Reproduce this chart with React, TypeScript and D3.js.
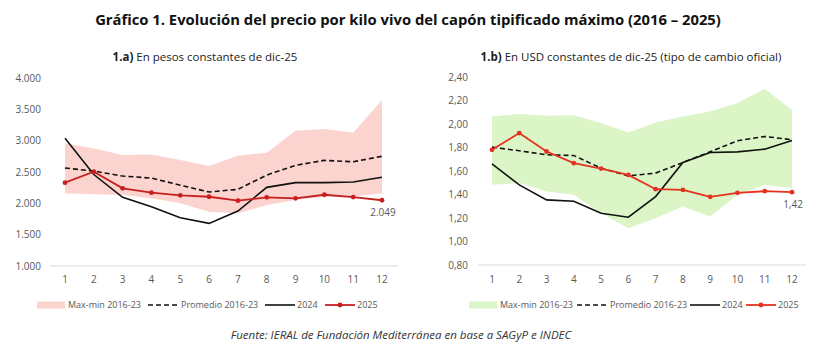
import * as d3 from 'd3';

const months = [1, 2, 3, 4, 5, 6, 7, 8, 9, 10, 11, 12];

// 1.a) pesos constantes dic-25
const pesosMax = [2957, 2877, 2770, 2781, 2690, 2595, 2760, 2808, 3158, 3185, 3126, 3648];
const pesosMin = [2160, 2143, 2132, 2080, 2000, 1866, 1840, 1973, 2053, 2105, 2110, 2160];
const pesosProm = [2563, 2515, 2435, 2403, 2290, 2180, 2223, 2451, 2606, 2686, 2663, 2750];
const pesos2024 = [3037, 2460, 2096, 1946, 1770, 1680, 1877, 2255, 2330, 2330, 2340, 2415];
const pesos2025 = [2330, 2504, 2240, 2170, 2127, 2105, 2042, 2096, 2080, 2137, 2100, 2049];
const pesosTicks = [1000, 1500, 2000, 2500, 3000, 3500, 4000];

// 1.b) USD constantes dic-25
const usdMax = [2.064, 2.085, 2.07, 2.075, 2.008, 1.928, 2.013, 2.064, 2.107, 2.178, 2.3, 2.12];
const usdMin = [1.482, 1.497, 1.425, 1.397, 1.24, 1.113, 1.198, 1.297, 1.212, 1.397, 1.482, 1.454];
const usdProm = [1.803, 1.772, 1.738, 1.732, 1.624, 1.559, 1.582, 1.672, 1.763, 1.857, 1.894, 1.866];
const usd2024 = [1.661, 1.482, 1.354, 1.343, 1.241, 1.207, 1.382, 1.672, 1.757, 1.763, 1.786, 1.86];
const usd2025 = [1.78, 1.923, 1.766, 1.667, 1.621, 1.567, 1.445, 1.439, 1.38, 1.414, 1.428, 1.42];
const usdTicks = [0.8, 1.0, 1.2, 1.4, 1.6, 1.8, 2.0, 2.2, 2.4];

const legendLabels = ['Max-min 2016-23', 'Promedio 2016-23', '2024', '2025'];

const FONT = "'Open Sans', sans-serif";
const GREY = '#595959';

const fmtPesos = (v: number) => d3.format(',')(v).replace(/,/g, '.');
const fmtUsd = (v: number) => v.toFixed(2).replace('.', ',');

type PanelProps = {
  x0: number; x1: number; axisX0: number; axisX1: number;
  yTop: number; yBottom: number; domain: [number, number];
  ticks: number[]; fmt: (v: number) => string; labelX: number;
  max: number[]; min: number[]; prom: number[]; y24: number[]; y25: number[];
  bandColor: string; redColor: string; endLabel: string;
  legendX: number[];
};

function Panel(p: PanelProps) {
  const x = d3.scaleLinear().domain([1, 12]).range([p.x0, p.x1]);
  const y = d3.scaleLinear().domain(p.domain).range([p.yBottom, p.yTop]);
  const area = d3.area<number>()
    .x((_, i) => x(months[i]))
    .y0((_, i) => y(p.min[i]))
    .y1((d) => y(d));
  const line = (vals: number[]) => d3.line<number>().x((_, i) => x(months[i])).y((d) => y(d))(vals) || '';
  const lx = p.legendX;
  const ly = 305;
  const lf = 9;
  return (
    <g>
      {p.ticks.map((t) => (
        <text key={t} x={p.labelX} y={y(t)} dy="0.35em" textAnchor="end" fontSize={10} fill={GREY} fontFamily={FONT}>
          {p.fmt(t)}
        </text>
      ))}
      <path d={area(p.max) || ''} fill={p.bandColor} />
      <line x1={p.axisX0} x2={p.axisX1} y1={p.yBottom} y2={p.yBottom} stroke="#d9d9d9" strokeWidth={1} />
      {months.map((m) => (
        <text key={m} x={x(m)} y={279} dy="0.35em" textAnchor="middle" fontSize={10} fill={GREY} fontFamily={FONT}>
          {m}
        </text>
      ))}
      <path d={line(p.prom)} fill="none" stroke="#111" strokeWidth={1.6} strokeDasharray="5,3" />
      <path d={line(p.y24)} fill="none" stroke="#111" strokeWidth={1.6} />
      <path d={line(p.y25)} fill="none" stroke={p.redColor} strokeWidth={1.8} />
      {p.y25.map((v, i) => (
        <circle key={i} cx={x(months[i])} cy={y(v)} r={2.4} fill={p.redColor} />
      ))}
      <text x={x(12) + 1} y={y(p.y25[11]) + 12} dy="0.35em" textAnchor="middle" fontSize={10} fill={GREY} fontFamily={FONT}>
        {p.endLabel}
      </text>
      {/* legend */}
      <rect x={lx[0]} y={ly - 3.5} width={28} height={7} fill={p.bandColor} />
      <text x={lx[0] + 31} y={ly} dy="0.35em" fontSize={lf} fill={GREY} fontFamily={FONT}>{legendLabels[0]}</text>
      <line x1={lx[1]} x2={lx[1] + 31} y1={ly} y2={ly} stroke="#111" strokeWidth={1.6} strokeDasharray="5,3" />
      <text x={lx[1] + 33} y={ly} dy="0.35em" fontSize={lf} fill={GREY} fontFamily={FONT}>{legendLabels[1]}</text>
      <line x1={lx[2]} x2={lx[2] + 30} y1={ly} y2={ly} stroke="#111" strokeWidth={1.6} />
      <text x={lx[2] + 32} y={ly} dy="0.35em" fontSize={lf} fill={GREY} fontFamily={FONT}>{legendLabels[2]}</text>
      <line x1={lx[3]} x2={lx[3] + 30} y1={ly} y2={ly} stroke={p.redColor} strokeWidth={1.8} />
      <circle cx={lx[3] + 15} cy={ly} r={2.4} fill={p.redColor} />
      <text x={lx[3] + 32} y={ly} dy="0.35em" fontSize={lf} fill={GREY} fontFamily={FONT}>{legendLabels[3]}</text>
    </g>
  );
}

export default function App() {
  return (
    <svg width={817} height={363} style={{ position: 'absolute', left: 0, top: 0, background: '#fff' }}>
      <rect width={817} height={363} fill="#fff" />
      <text x={408} y={20} dy="0.35em" textAnchor="middle" fontSize={14.8} fontWeight="bold" fill="#111" fontFamily={FONT}>
        Gráfico 1. Evolución del precio por kilo vivo del capón tipificado máximo (2016 – 2025)
      </text>
      <text x={205} y={57} dy="0.35em" textAnchor="middle" fontSize={11.5} fill="#222" fontFamily={FONT}>
        <tspan fontWeight="bold">1.a)</tspan> En pesos constantes de dic-25
      </text>
      <text x={631} y={57} dy="0.35em" textAnchor="middle" fontSize={11.5} fill="#222" fontFamily={FONT}>
        <tspan fontWeight="bold">1.b)</tspan> En USD constantes de dic-25 (tipo de cambio oficial)
      </text>
      <Panel
        x0={65} x1={382} axisX0={50} axisX1={398}
        yTop={78} yBottom={266} domain={[1000, 4000]}
        ticks={pesosTicks} fmt={fmtPesos} labelX={41}
        max={pesosMax} min={pesosMin} prom={pesosProm} y24={pesos2024} y25={pesos2025}
        bandColor="#fbd3cf" redColor="#c8201e" endLabel={fmtPesos(pesos2025[11])}
        legendX={[37, 148, 265, 325]}
      />
      <Panel
        x0={492} x1={792} axisX0={478} axisX1={806}
        yTop={77} yBottom={265} domain={[0.8, 2.4]}
        ticks={usdTicks} fmt={fmtUsd} labelX={468}
        max={usdMax} min={usdMin} prom={usdProm} y24={usd2024} y25={usd2025}
        bandColor="#dcf5c6" redColor="#e5311f" endLabel={fmtUsd(usd2025[11])}
        legendX={[469, 577, 690, 746]}
      />
      <text x={401} y={335} dy="0.35em" textAnchor="middle" fontSize={11.5} fontStyle="italic" fill="#333" fontFamily={FONT}>
        Fuente: IERAL de Fundación Mediterránea en base a SAGyP e INDEC
      </text>
    </svg>
  );
}
